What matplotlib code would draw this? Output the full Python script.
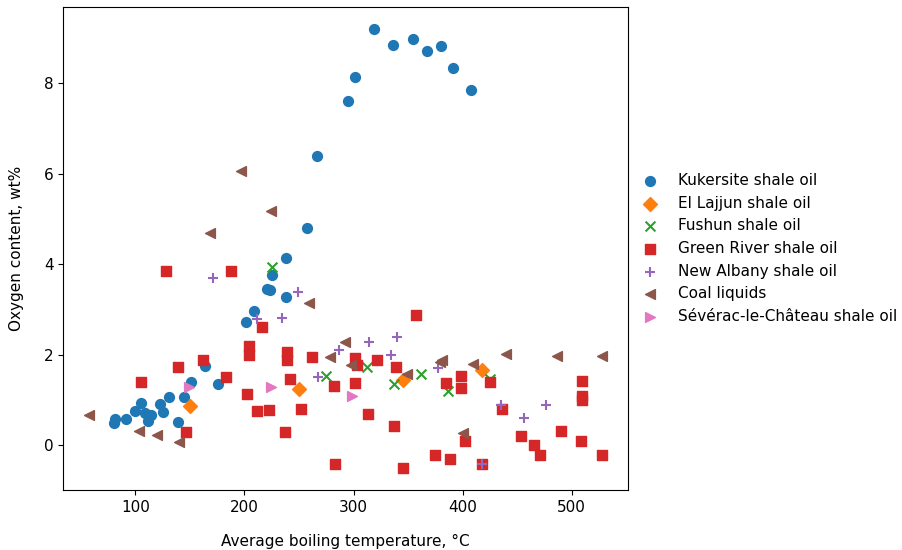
import matplotlib
matplotlib.use("Agg")
import matplotlib.pyplot as plt

plt.rcParams["font.size"] = 11

# Kukersite shale oil
kuk_x = [80.5, 81.1, 91.5, 99.4, 105.5, 108.5, 111.6, 114.6, 122.6, 125.0, 131.1, 139.0,
         144.6, 150.9, 164.0, 176.2, 201.3, 209.2, 221.0, 223.5, 225.3, 237.9, 238.4,
         257.1, 266.8, 295.2, 301.6, 318.4, 335.8, 354.6, 367.4, 379.9, 391.2, 407.4]
kuk_y = [0.48, 0.58, 0.58, 0.75, 0.92, 0.70, 0.54, 0.66, 0.90, 0.74, 1.06, 0.51,
         1.06, 1.40, 1.74, 1.36, 2.73, 2.97, 3.45, 3.44, 3.77, 3.27, 4.13,
         4.79, 6.39, 7.62, 8.14, 9.20, 8.84, 8.98, 8.71, 8.83, 8.33, 7.85]

# El Lajjun shale oil
ell_x = [150.0, 249.8, 345.5, 417.5]
ell_y = [0.87, 1.24, 1.44, 1.65]

# Fushun shale oil
fus_x = [225.0, 274.5, 312.3, 337.2, 362.0, 387.0, 424.8]
fus_y = [3.94, 1.53, 1.73, 1.34, 1.57, 1.20, 1.46]

# Green River shale oil
gr_x = [105.5, 128.4, 139.0, 146.4, 162.2, 183.3, 187.8, 202.2, 204.3, 204.3, 211.1,
        216.2, 222.3, 236.9, 238.8, 238.8, 242.1, 251.9, 262.0, 282.4, 283.2, 301.3,
        301.3, 303.4, 313.5, 321.1, 336.9, 339.1, 345.8, 357.1, 374.8, 385.2, 388.8,
        398.5, 398.5, 402.6, 418.1, 425.4, 435.8, 453.4, 465.3, 470.5, 489.8, 508.9,
        509.6, 509.6, 509.6, 527.5]
gr_y = [1.39, 3.86, 1.72, 0.29, 1.88, 1.50, 3.86, 1.12, 2.20, 1.99, 0.75,
        2.60, 0.78, 0.28, 2.05, 1.87, 1.47, 0.79, 1.95, 1.31, -0.41, 1.92,
        1.37, 1.78, 0.69, 1.89, 0.42, 1.73, -0.51, 2.88, -0.21, 1.38, -0.31,
        1.52, 1.26, 0.10, -0.41, 1.40, 0.79, 0.19, 0.00, -0.21, 0.30, 0.10,
        1.42, 1.08, 0.99, -0.21]

# New Albany shale oil
na_x = [171.0, 211.9, 234.8, 248.8, 267.6, 286.9, 314.1, 334.5, 340.0, 377.2,
        418.1, 435.5, 456.2, 476.0]
na_y = [3.69, 2.79, 2.80, 3.39, 1.50, 2.10, 2.29, 1.99, 2.40, 1.70,
        -0.41, 0.89, 0.59, 0.89]

# Coal liquids
coal_x = [57.3, 103.0, 119.9, 140.3, 168.0, 196.7, 224.4, 259.5, 278.2, 292.0,
          297.8, 348.6, 379.0, 381.2, 400.1, 409.5, 440.0, 486.1, 527.9]
coal_y = [0.66, 0.32, 0.22, 0.07, 4.68, 6.06, 5.18, 3.14, 1.94, 2.27,
          1.77, 1.58, 1.84, 1.87, 0.26, 1.80, 2.02, 1.98, 1.96]

# Severac-le-Chateau shale oil
sev_x = [149.1, 224.1, 298.5]
sev_y = [1.29, 1.29, 1.09]

fig, ax = plt.subplots(figsize=(9.02, 5.5), dpi=100)
fig.subplots_adjust(left=0.07, right=0.696, top=0.987, bottom=0.109)

s = 50
ax.scatter(kuk_x, kuk_y, marker="o", s=s, color="tab:blue", label="Kukersite shale oil")
ax.scatter(ell_x, ell_y, marker="D", s=s, color="tab:orange", label="El Lajjun shale oil")
ax.scatter(fus_x, fus_y, marker="x", s=s, color="tab:green", label="Fushun shale oil")
ax.scatter(gr_x, gr_y, marker="s", s=s, color="tab:red", label="Green River shale oil")
ax.scatter(na_x, na_y, marker="+", s=s, color="tab:purple", label="New Albany shale oil")
ax.scatter(coal_x, coal_y, marker="<", s=s, color="tab:brown", label="Coal liquids")
ax.scatter(sev_x, sev_y, marker=">", s=s, color="tab:pink",
           label="Sévérac-le-Château shale oil")

ax.set_xlabel("Average boiling temperature, °C", labelpad=14)
ax.set_ylabel("Oxygen content, wt%", labelpad=14)
ax.set_xticks([100, 200, 300, 400, 500])
ax.set_yticks([0, 2, 4, 6, 8])

ax.legend(loc="center left", bbox_to_anchor=(0.988, 0.5), frameon=False)

plt.savefig("out.png", dpi=100)
